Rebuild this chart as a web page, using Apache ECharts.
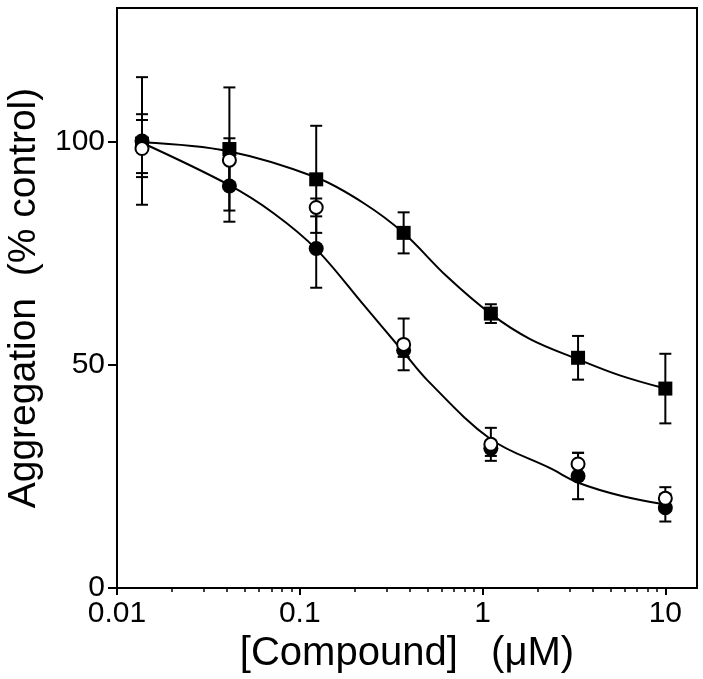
<!DOCTYPE html>
<html>
<head>
<meta charset="utf-8">
<script src="https://cdn.jsdelivr.net/npm/echarts@6/dist/echarts.min.js"></script>
<style>
html,body{margin:0;padding:0;background:#fff;}
#chart{width:703px;height:679px;}
</style>
</head>
<body>
<div id="chart"></div>
<script>
// concentrations (µM)
const conc = [0.0137, 0.0412, 0.123, 0.37, 1.11, 3.33, 10];
// filled squares
const squareMean = [99.6, 98.4, 91.6, 79.6, 61.5, 51.6, 44.7];
const squareSD   = [6.6, 13.8, 12.0, 4.6, 2.1, 4.9, 7.8];
// filled circles
const filledMean = [100.2, 90.1, 76.1, 53.3, 31.3, 25.1, 18.0];
const filledSD   = [14.3, 8.0, 8.8, 1.5, 1.7, 5.2, 3.1];
// open circles
const openMean   = [98.5, 95.9, 85.3, 54.6, 32.2, 27.8, 20.1];
const openSD     = [6.4, 4.9, 2.0, 5.8, 3.7, 2.5, 2.5];
// fitted curve (upper, squares)
const fitConcUpper = [0.0137, 0.0407, 0.1234, 0.223, 0.369, 0.639, 1.104, 1.82, 3.31, 5.69, 10];
const fitUpper     = [99.9, 97.9, 92.0, 86.3, 79.6, 69.8, 61.5, 55.8, 51.3, 47.6, 44.7];
// fitted curve (lower, circles)
const fitConcLower = [0.0137, 0.0407, 0.0719, 0.1234, 0.223, 0.369, 0.498, 1.104, 2.356, 3.34, 5.93, 10];
const fitLower     = [99.8, 90.4, 84.0, 75.9, 63.5, 52.9, 46.6, 33.4, 26.8, 23.6, 20.5, 18.7];
// ticks
const xTickValues = [0.01, 0.1, 1, 10];
const xTickLabels = ['0.01', '0.1', '1', '10'];
const yTickValues = [0, 50, 100];

const pairs = (xs, ys) => xs.map((x, i) => [x, ys[i]]);
const errData = (means, sds) => conc.map((x, i) => [x, means[i] - sds[i], means[i] + sds[i]]);

function errRender(params, api) {
  const x = api.value(0), lo = api.value(1), hi = api.value(2);
  const a = api.coord([x, lo]), b = api.coord([x, hi]);
  const w = 6;
  const st = {stroke: '#000', lineWidth: 2};
  return {type: 'group', children: [
    {type: 'line', shape: {x1: a[0], y1: a[1], x2: b[0], y2: b[1]}, style: st},
    {type: 'line', shape: {x1: a[0] - w, y1: a[1], x2: a[0] + w, y2: a[1]}, style: st},
    {type: 'line', shape: {x1: b[0] - w, y1: b[1], x2: b[0] + w, y2: b[1]}, style: st}
  ]};
}
const errSeries = (means, sds) => ({
  type: 'custom', renderItem: errRender, data: errData(means, sds),
  encode: {x: 0, y: [1, 2]}, z: 1, silent: true, clip: false
});

const FONT = '"Liberation Sans", Arial, sans-serif';
const chart = echarts.init(document.getElementById('chart'), null, {renderer: 'canvas'});
chart.setOption({
  animation: false,
  backgroundColor: '#fff',
  grid: {left: 117, right: 6, top: 8, bottom: 91, show: true, borderColor: '#000', borderWidth: 2,
         backgroundColor: 'transparent', containLabel: false, outerBoundsMode: 'none'},
  xAxis: {
    type: 'log', logBase: 10, min: 0.01, max: 14.9,
    name: '[Compound]   (\u03bcM)', nameLocation: 'middle', nameGap: 45,
    nameTextStyle: {fontFamily: FONT, fontSize: 40, color: '#000'},
    axisLine: {show: true, onZero: false, lineStyle: {color: '#000', width: 2}},
    axisTick: {show: true, length: 7, lineStyle: {color: '#000', width: 2}, customValues: xTickValues},
    minorTick: {show: true, splitNumber: 9, length: 4, lineStyle: {color: '#000', width: 1.5}},
    axisLabel: {show: true, margin: 11, fontFamily: FONT, fontSize: 30, color: '#000', customValues: xTickValues,
      formatter: v => { const i = xTickValues.findIndex(t => Math.abs(t - v) / t < 1e-6); return i >= 0 ? xTickLabels[i] : ''; }},
    splitLine: {show: false}, minorSplitLine: {show: false}
  },
  yAxis: {
    type: 'value', min: 0, max: 130,
    name: 'Aggregation  (% control)', nameLocation: 'middle', nameGap: 72, nameRotate: 90,
    nameTextStyle: {fontFamily: FONT, fontSize: 39, color: '#000'},
    axisLine: {show: true, lineStyle: {color: '#000', width: 2}},
    axisTick: {show: true, length: 9, lineStyle: {color: '#000', width: 2}, customValues: yTickValues},
    axisLabel: {show: true, margin: 12, fontFamily: FONT, fontSize: 30, color: '#000', customValues: yTickValues},
    splitLine: {show: false}
  },
  series: [
    errSeries(squareMean, squareSD),
    errSeries(filledMean, filledSD),
    errSeries(openMean, openSD),
    {type: 'line', data: pairs(fitConcUpper, fitUpper), smooth: 0.35, showSymbol: false, symbol: 'none',
     lineStyle: {color: '#000', width: 2}, z: 2, silent: true},
    {type: 'line', data: pairs(fitConcLower, fitLower), smooth: 0.35, showSymbol: false, symbol: 'none',
     lineStyle: {color: '#000', width: 2}, z: 2, silent: true},
    {type: 'scatter', data: pairs(conc, squareMean), symbol: 'rect', symbolSize: 14,
     itemStyle: {color: '#000', opacity: 1}, z: 3, silent: true},
    {type: 'scatter', data: pairs(conc, filledMean), symbol: 'circle', symbolSize: 15,
     itemStyle: {color: '#000', opacity: 1}, z: 4, silent: true},
    {type: 'scatter', data: pairs(conc, openMean), symbol: 'circle', symbolSize: 13,
     itemStyle: {color: '#fff', borderColor: '#000', borderWidth: 2, opacity: 1}, z: 5, silent: true}
  ]
});
</script>
</body>
</html>
